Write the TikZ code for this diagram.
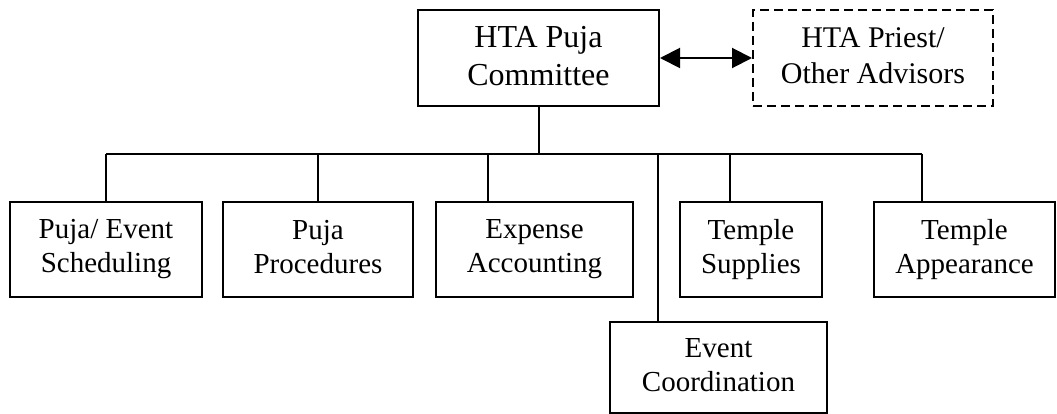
\documentclass[tikz,border=0pt]{standalone}
\usepackage{fontspec}
\setmainfont{Liberation Serif}
\usetikzlibrary{arrows.meta,positioning}

\begin{document}
\begin{tikzpicture}[x=1pt, y=-1pt, line width=2pt,
    unit/.style={draw, rectangle, align=center, inner sep=0pt, minimum height=95pt,
      font=\fontsize{29}{34}\selectfont,
      execute at begin node={\rule{0pt}{25pt}}, execute at end node={\rule[-5pt]{0pt}{5pt}}},
    head/.style={unit, minimum height=96pt, font=\fontsize{32}{38}\selectfont}]
    \useasboundingbox (0,0) rectangle (1057,414);

    % top row
    \node (committee) [head, minimum width=241pt] at (538.5,58) {HTA Puja\\Committee};
    \node (advisors) [head, minimum width=240pt, dash pattern=on 9pt off 5pt,
      font=\fontsize{30}{36}\selectfont] at (873,58) {HTA Priest/\\Other Advisors};

    % units
    \node (sched) [unit, minimum width=192pt] at (106,249.5) {Puja/ Event\\Scheduling};
    \node (proc) [unit, minimum width=190pt] at (318,249.5) {Puja\\Procedures};
    \node (expense) [unit, minimum width=197pt] at (534.5,249.5) {Expense\\Accounting};
    \node (supplies) [unit, minimum width=142pt] at (751,249.5) {Temple\\Supplies};
    \node (appear) [unit, minimum width=181pt] at (964.5,249.5) {Temple\\Appearance};
    \node (coord) [unit, minimum width=217pt, minimum height=91pt] at (718.5,367.5) {Event\\Coordination};

    % bus
    \coordinate (bus) at (538.5,154);
    \coordinate (b1) at (106,154);
    \coordinate (b2) at (318,154);
    \coordinate (b3) at (488,154);
    \coordinate (b4) at (658,154);
    \coordinate (b5) at (730,154);
    \coordinate (b6) at (922,154);

    \draw[{Triangle[length=20pt,width=20pt]}-{Triangle[length=20pt,width=20pt]}]
      (committee) -- (advisors);
    \draw (committee) -- (bus);
    \draw (b1) -- (b6);
    \draw (b1) -- (b1 |- sched.north);
    \draw (b2) -- (b2 |- proc.north);
    \draw (b3) -- (b3 |- expense.north);
    \draw (b4) -- (b4 |- coord.north);
    \draw (b5) -- (b5 |- supplies.north);
    \draw (b6) -- (b6 |- appear.north);
\end{tikzpicture}
\end{document}
